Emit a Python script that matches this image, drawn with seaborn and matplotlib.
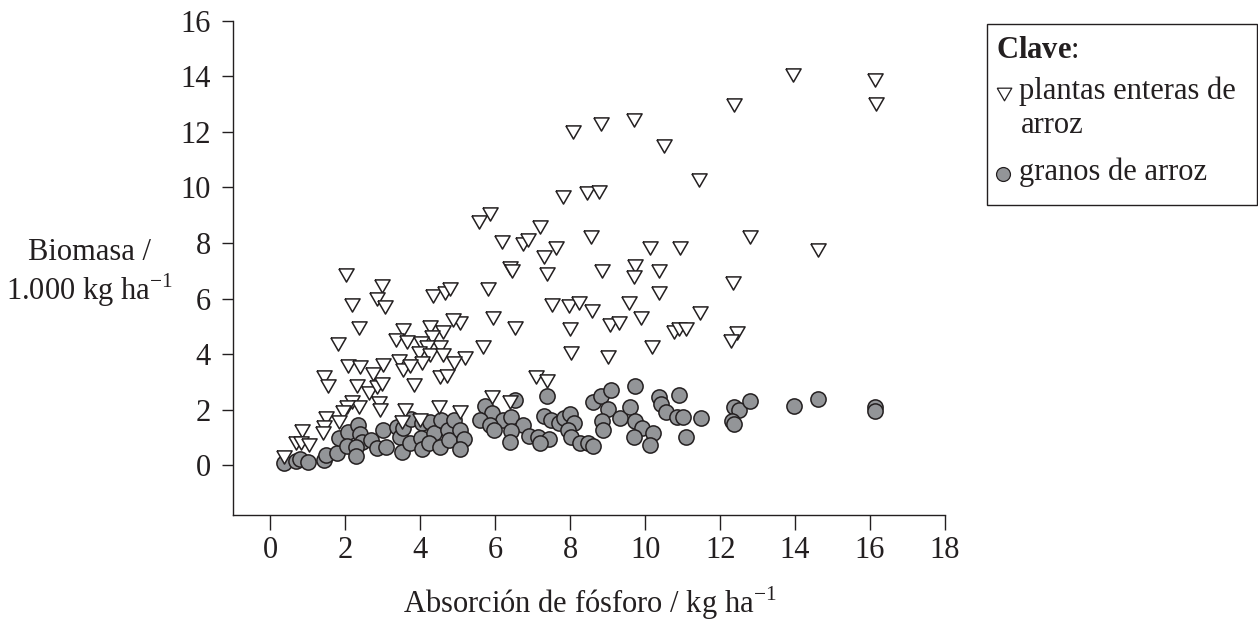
import numpy as np
import pandas as pd
import matplotlib
matplotlib.use("Agg")
from matplotlib import pyplot as plt
from matplotlib.lines import Line2D
from matplotlib.patches import Rectangle
from matplotlib.markers import MarkerStyle
import seaborn as sns

# plantas enteras de arroz (triangulos)
plantas_x = [8.06, 8.82, 9.71, 10.51, 11.43, 12.36, 13.95, 16.13, 16.16, 7.8, 8.45, 8.78, 7.2, 8.56, 12.8,
             5.87, 5.57, 6.17, 6.73, 6.86, 7.62, 7.31, 10.12, 10.93, 6.4, 6.44, 7.39, 8.86, 9.73, 9.7, 10.38,
             5.8, 10.38, 7.5, 7.96, 8.24, 8.59, 9.58, 5.94, 5.07, 6.53, 8.0, 9.05, 9.3, 9.88, 10.76, 10.89,
             11.08, 5.67, 5.2, 8.02, 9.01, 10.19, 7.09, 7.39, 5.91, 6.38, 5.07,
             14.6, 12.34, 11.45, 12.44, 12.28,
             2.02, 2.98, 2.84, 3.05, 2.17, 2.36, 1.8, 4.34, 4.67, 4.8, 4.87, 3.55, 3.36, 3.64, 4.27, 4.6,
             4.31, 4.02, 4.52, 4.18, 3.96, 4.27, 4.6, 4.04, 4.89, 3.42, 3.55, 3.73, 2.06, 2.4, 3.0, 2.74,
             1.44, 1.54, 2.31, 2.62, 2.84, 2.98, 3.84, 4.53, 4.71, 2.89, 2.93, 2.18, 2.36, 2.03, 1.94,
             1.82, 1.47, 1.42, 1.4, 0.85, 0.67, 0.82, 1.02, 0.36, 3.58, 3.51, 4.0, 4.49]
plantas_y = [12.01, 12.28, 12.43, 11.5, 10.27, 12.97, 14.05, 13.87, 13.0, 9.65, 9.81, 9.83, 8.59, 8.23, 8.23,
             9.05, 8.74, 8.02, 7.98, 8.1, 7.83, 7.5, 7.81, 7.81, 7.09, 7.0, 6.87, 6.99, 7.17, 6.76, 7.0,
             6.34, 6.21, 5.77, 5.74, 5.85, 5.55, 5.83, 5.31, 5.1, 4.92, 4.9, 5.05, 5.1, 5.28, 4.8, 4.89,
             4.89, 4.26, 3.84, 4.02, 3.88, 4.24, 3.18, 3.04, 2.46, 2.26, 1.92,
             7.75, 6.55, 5.47, 4.77, 4.48,
             6.85, 6.45, 6.0, 5.7, 5.77, 4.93, 4.35, 6.1, 6.19, 6.33, 5.22, 4.86, 4.5, 4.44, 4.96, 4.8,
             4.62, 4.38, 4.24, 4.26, 4.02, 3.96, 3.96, 3.69, 3.66, 3.75, 3.42, 3.58, 3.57, 3.52, 3.6, 3.28,
             3.18, 2.85, 2.85, 2.61, 2.8, 2.92, 2.88, 3.18, 3.22, 2.22, 1.98, 2.28, 2.08, 2.1, 1.92,
             1.56, 1.7, 1.38, 1.14, 1.24, 0.8, 0.8, 0.72, 0.28, 1.98, 1.56, 1.62, 2.08]

# granos de arroz (circulos)
granos_x = [0.36, 0.67, 0.8, 1.0, 1.42, 1.47, 1.78, 1.82, 2.06, 2.04, 2.33, 2.4, 2.44, 2.29, 2.27, 2.69,
            2.83, 3.08, 3.0, 3.37, 3.47, 3.55, 3.5, 3.73, 3.75, 4.04, 4.02, 4.04, 4.27, 4.37, 4.23, 4.52,
            4.56, 4.73, 4.76, 4.89, 5.06, 5.17, 5.07,
            6.53, 7.39, 5.73, 5.91, 5.58, 6.2, 6.42, 5.85, 5.96, 6.74, 6.42, 6.4, 6.89, 7.15, 7.42, 7.2,
            7.31, 7.48, 7.69, 7.84, 8.0, 8.09, 7.93, 8.02, 8.27, 8.47, 8.62, 8.62, 8.83, 9.08, 9.0, 8.84,
            8.87, 9.34, 9.73, 9.6, 9.74, 9.91, 10.21, 9.71, 10.13, 10.38, 10.42, 10.55, 10.89, 10.84,
            11.0, 11.08,
            11.48, 12.37, 12.49, 12.8, 12.31, 12.38, 13.97, 14.6, 16.14, 16.12]
granos_y = [0.06, 0.16, 0.2, 0.12, 0.18, 0.36, 0.42, 0.96, 1.2, 0.7, 1.46, 1.12, 0.84, 0.64, 0.32, 0.91,
            0.62, 0.66, 1.28, 1.38, 1.02, 1.32, 0.48, 0.79, 1.65, 1.5, 0.96, 0.58, 1.56, 1.15, 0.78, 0.64,
            1.64, 1.27, 0.9, 1.63, 1.26, 0.93, 0.57,
            2.34, 2.5, 2.12, 1.89, 1.64, 1.62, 1.74, 1.44, 1.26, 1.44, 1.24, 0.84, 1.06, 1.02, 0.92, 0.78,
            1.77, 1.62, 1.5, 1.68, 1.84, 1.53, 1.28, 1.02, 0.8, 0.78, 0.68, 2.26, 2.49, 2.7, 2.02, 1.59,
            1.26, 1.68, 2.86, 2.1, 1.59, 1.32, 1.16, 1.0, 0.71, 2.46, 2.2, 1.92, 2.52, 1.74,
            1.72, 1.0,
            1.68, 2.08, 1.98, 2.32, 1.6, 1.47, 2.14, 2.38, 2.1, 1.96]

x_ticks = list(range(0, 19, 2))
y_ticks = list(range(0, 17, 2))

sns.set_theme(style="ticks")
plt.rcParams['font.family'] = ['Liberation Serif', 'DejaVu Serif']
plt.rcParams['mathtext.fontset'] = 'custom'
plt.rcParams['mathtext.rm'] = 'Liberation Serif'
plt.rcParams['mathtext.bf'] = 'Liberation Serif:bold'

ink = '#231f20'
gris = '#939598'
fs = 22

fig = plt.figure(figsize=(12.58, 6.24), dpi=100)
ax = fig.add_axes([0.1852, 0.1747, 0.566, 0.7917])

tri = MarkerStyle([(-1, 0.866), (1, 0.866), (0, -0.866), (-1, 0.866)])

granos = pd.DataFrame({"x": granos_x, "y": granos_y})
plantas = pd.DataFrame({"x": plantas_x, "y": plantas_y})

sns.scatterplot(data=granos, x="x", y="y", ax=ax, marker="o", s=120,
                color=gris, edgecolor=ink, linewidth=1.1, zorder=3, legend=False)
sns.scatterplot(data=plantas, x="x", y="y", ax=ax, marker=tri, s=120,
                color="white", edgecolor=ink, linewidth=1.1, zorder=4, legend=False)

ax.set_xlim(-1, 18)
ax.set_ylim(-1.8, 16)
ax.set_xticks(x_ticks)
ax.set_yticks(y_ticks)
ax.set_xticklabels([str(t) for t in x_ticks])
ax.set_yticklabels([str(t) for t in y_ticks])
ax.tick_params(axis='x', length=11, width=1, color=ink, labelsize=fs, labelcolor=ink, pad=4)
ax.tick_params(axis='y', length=8, width=1, color=ink, labelsize=fs, labelcolor=ink, pad=8)
for side in ['top', 'right']:
    ax.spines[side].set_visible(False)
for side in ['left', 'bottom']:
    ax.spines[side].set_color(ink)
    ax.spines[side].set_linewidth(1)
ax.set_xlabel("")
ax.set_ylabel("")

fig.text(590 / 1258, 1 - 603 / 624, r"Absorción de fósforo / kg ha$^{-1}$",
         ha='center', va='center', fontsize=fs, color=ink)
fig.text(89 / 1258, 1 - 252 / 624, "Biomasa /", ha='center', va='center', fontsize=fs, color=ink)
fig.text(89 / 1258, 1 - 290 / 624, r"1.000 kg ha$^{-1}$", ha='center', va='center', fontsize=fs, color=ink)

# clave
fig.add_artist(Rectangle((987 / 1258, 1 - 205 / 624), (1257 - 987) / 1258, (205 - 24) / 624,
                         transform=fig.transFigure, fill=False, edgecolor=ink, linewidth=1))
fig.text(996 / 1258, 1 - 50 / 624, r"$\mathbf{Clave}$:", ha='left', va='center', fontsize=fs, color=ink)
fig.text(1019 / 1258, 1 - 91 / 624, "plantas enteras de", ha='left', va='center', fontsize=fs, color=ink)
fig.text(1021 / 1258, 1 - 126 / 624, "arroz", ha='left', va='center', fontsize=fs, color=ink)
fig.text(1019 / 1258, 1 - 172 / 624, "granos de arroz", ha='left', va='center', fontsize=fs, color=ink)
fig.add_artist(Line2D([1004 / 1258], [1 - 94 / 624], transform=fig.transFigure, marker=tri,
                      markersize=10.5, markerfacecolor='white', markeredgecolor=ink, markeredgewidth=0.9,
                      linestyle='none'))
fig.add_artist(Line2D([1003 / 1258], [1 - 174 / 624], transform=fig.transFigure, marker='o',
                      markersize=10, markerfacecolor=gris, markeredgecolor=ink, markeredgewidth=0.9,
                      linestyle='none'))

fig.savefig("out.png", dpi=100)
